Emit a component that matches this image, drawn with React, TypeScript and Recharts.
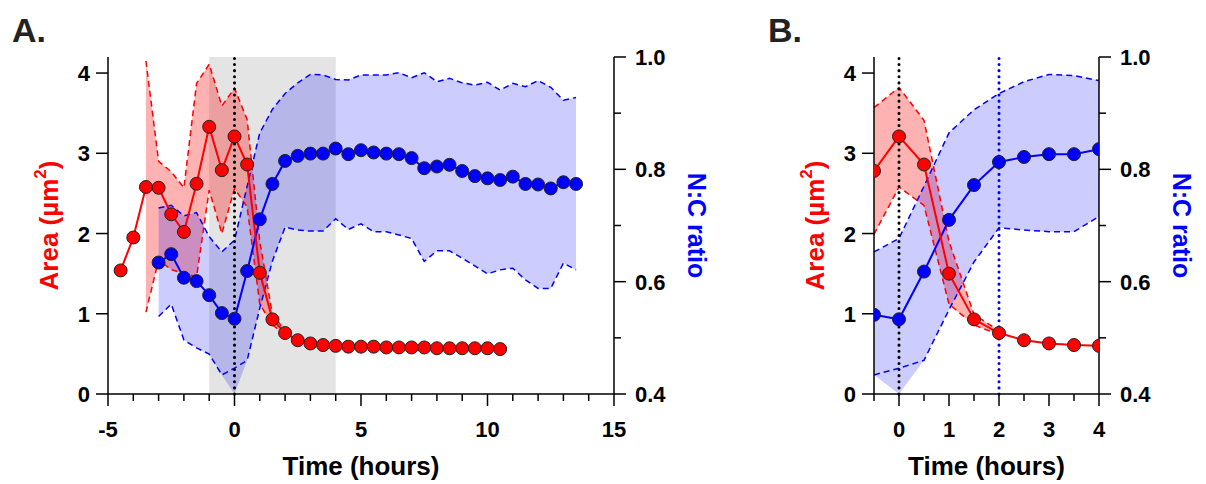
import React from 'react';
import { ComposedChart, Line, Area, XAxis, YAxis, ReferenceArea, ReferenceLine } from 'recharts';

const RED = '#ff0000';
const BLUE = '#0000ff';
const FONT = 'Arial, "Liberation Sans", Helvetica, sans-serif';

// ---- panel A: whole time course ----
const A_AREA_TIME = [-4.5, -4, -3.5, -3, -2.5, -2, -1.5, -1, -0.5, 0, 0.5, 1, 1.5, 2, 2.5, 3, 3.5, 4, 4.5, 5, 5.5, 6, 6.5, 7, 7.5, 8, 8.5, 9, 9.5, 10, 10.5];
const A_AREA = [1.54, 1.95, 2.58, 2.57, 2.24, 2.02, 2.62, 3.33, 2.79, 3.21, 2.86, 1.51, 0.93, 0.76, 0.67, 0.63, 0.61, 0.6, 0.59, 0.59, 0.59, 0.58, 0.58, 0.58, 0.58, 0.57, 0.57, 0.57, 0.57, 0.57, 0.56];
const A_AREA_SD_TIME = [-3.5, -3, -2.5, -2, -1.5, -1, -0.5, 0, 0.5, 1, 1.5, 2];
const A_AREA_HI = [4.15, 2.9, 2.77, 2.57, 3.87, 4.11, 3.59, 3.81, 3.42, 1.9, 0.99, 0.79];
const A_AREA_LO = [1.02, 1.67, 1.55, 1.5, 1.46, 2.54, 2.0, 2.56, 2.33, 1.12, 0.86, 0.74];

const A_NC_TIME = [-3, -2.5, -2, -1.5, -1, -0.5, 0, 0.5, 1, 1.5, 2, 2.5, 3, 3.5, 4, 4.5, 5, 5.5, 6, 6.5, 7, 7.5, 8, 8.5, 9, 9.5, 10, 10.5, 11, 11.5, 12, 12.5, 13, 13.5];
const A_NC = [0.634, 0.649, 0.607, 0.601, 0.576, 0.544, 0.534, 0.619, 0.711, 0.774, 0.815, 0.824, 0.828, 0.828, 0.837, 0.827, 0.834, 0.83, 0.828, 0.827, 0.82, 0.802, 0.805, 0.808, 0.797, 0.788, 0.784, 0.781, 0.787, 0.774, 0.773, 0.766, 0.777, 0.774];
const A_NC_HI = [0.731, 0.736, 0.717, 0.723, 0.68, 0.653, 0.674, 0.77, 0.865, 0.907, 0.935, 0.954, 0.969, 0.968, 0.96, 0.959, 0.968, 0.968, 0.968, 0.972, 0.963, 0.972, 0.956, 0.962, 0.954, 0.95, 0.955, 0.941, 0.953, 0.947, 0.958, 0.946, 0.923, 0.928];
const A_NC_LO = [0.538, 0.56, 0.496, 0.482, 0.471, 0.434, 0.446, 0.46, 0.553, 0.637, 0.697, 0.692, 0.69, 0.69, 0.712, 0.693, 0.703, 0.689, 0.689, 0.683, 0.677, 0.636, 0.655, 0.655, 0.642, 0.628, 0.614, 0.621, 0.624, 0.603, 0.588, 0.588, 0.633, 0.621];
// shaded band floor (drops to the axis at t = 0)
const A_NC_FILL_LO = [0.538, 0.56, 0.496, 0.482, 0.471, 0.434, 0.4, 0.46, 0.553, 0.637, 0.697, 0.692, 0.69, 0.69, 0.712, 0.693, 0.703, 0.689, 0.689, 0.683, 0.677, 0.636, 0.655, 0.655, 0.642, 0.628, 0.614, 0.621, 0.624, 0.603, 0.588, 0.588, 0.633, 0.621];

const A_X_TICKS = [-5, -4, -3, -2, -1, 0, 1, 2, 3, 4, 5, 6, 7, 8, 9, 10, 11, 12, 13, 14, 15];
const A_X_LABELS = [-5, 0, 5, 10, 15];
const A_SHADE = [-1, 4];

// ---- panel B: zoom on -0.5 .. 4 h ----
const B_TIME = [-0.5, 0, 0.5, 1, 1.5, 2, 2.5, 3, 3.5, 4];
const B_AREA = [2.78, 3.21, 2.86, 1.5, 0.93, 0.76, 0.67, 0.63, 0.61, 0.6];
const B_AREA_SD_TIME = [-0.5, 0, 0.5, 1, 1.5, 2];
const B_AREA_HI = [3.57, 3.82, 3.41, 1.9, 0.99, 0.79];
const B_AREA_LO = [1.99, 2.58, 2.35, 1.12, 0.86, 0.74];
const B_NC = [0.541, 0.533, 0.618, 0.71, 0.772, 0.813, 0.822, 0.827, 0.827, 0.836];
const B_NC_HI = [0.653, 0.677, 0.77, 0.865, 0.906, 0.935, 0.956, 0.969, 0.967, 0.958];
const B_NC_LO = [0.434, 0.446, 0.46, 0.55, 0.635, 0.696, 0.692, 0.689, 0.689, 0.716];
const B_NC_FILL_LO = [0.434, 0.4, 0.46, 0.55, 0.635, 0.696, 0.692, 0.689, 0.689, 0.716];

const B_X_TICKS = [-0.5, 0, 0.5, 1, 1.5, 2, 2.5, 3, 3.5, 4];
const B_X_LABELS = [0, 1, 2, 3, 4];

const AREA_TICKS = [0, 1, 2, 3, 4];
const NC_TICKS = [0.4, 0.5, 0.6, 0.7, 0.8, 0.9, 1.0];
const NC_LABELS = [0.4, 0.6, 0.8, 1.0];

type Col = [string, number[], (number | null)[]];

// merge every series into one table keyed by time
const buildRows = (cols: Col[]) => {
  const times = Array.from(new Set(cols.flatMap((c) => c[1]))).sort((a, b) => a - b);
  return times.map((t) => {
    const row: Record<string, number | null> = { t };
    cols.forEach(([key, ts, vs]) => {
      const i = ts.indexOf(t);
      row[key] = i < 0 ? null : vs[i];
    });
    return row;
  });
};

const rowsA = buildRows([
  ['area', A_AREA_TIME, A_AREA],
  ['areaHi', A_AREA_SD_TIME, A_AREA_HI],
  ['areaLo', A_AREA_SD_TIME, A_AREA_LO],
  ['nc', A_NC_TIME, A_NC],
  ['ncHi', A_NC_TIME, A_NC_HI],
  ['ncLo', A_NC_TIME, A_NC_LO],
  ['ncFillLo', A_NC_TIME, A_NC_FILL_LO],
]);

const rowsB = buildRows([
  ['area', B_TIME, B_AREA],
  ['areaHi', B_AREA_SD_TIME, B_AREA_HI],
  ['areaLo', B_AREA_SD_TIME, B_AREA_LO],
  ['nc', B_TIME, B_NC],
  ['ncHi', B_TIME, B_NC_HI],
  ['ncLo', B_TIME, B_NC_LO],
  ['ncFillLo', B_TIME, B_NC_FILL_LO],
]);

const txt = { fontFamily: FONT, fontWeight: 700, fill: '#000' } as const;

const makeXTick = (labeled: number[]) => (props: any) => {
  const { x, y, payload } = props;
  const major = labeled.includes(payload.value);
  return (
    <g>
      <line x1={x} x2={x} y1={y} y2={y + (major ? 12 : 7)} stroke="#000" strokeWidth={1.5} />
      {major && (
        <text x={x} y={y + 43} textAnchor="middle" fontSize={22} {...txt}>
          {payload.value}
        </text>
      )}
    </g>
  );
};

const AreaTick = (props: any) => {
  const { x, y, payload } = props;
  return (
    <g>
      <line x1={x - 12} x2={x} y1={y} y2={y} stroke="#000" strokeWidth={1.5} />
      <text x={x - 18} y={y + 8} textAnchor="end" fontSize={22} {...txt}>
        {payload.value}
      </text>
    </g>
  );
};

const NcTick = (props: any) => {
  const { x, y, payload } = props;
  const major = NC_LABELS.some((v) => Math.abs(v - payload.value) < 1e-6);
  return (
    <g>
      <line x1={x} x2={x + (major ? 12 : 7)} y1={y} y2={y} stroke="#000" strokeWidth={1.5} />
      {major && (
        <text x={x + 21} y={y + 8} textAnchor="start" fontSize={22} {...txt}>
          {payload.value.toFixed(1)}
        </text>
      )}
    </g>
  );
};

const areaTitle = (props: any) => {
  const { x, y, height } = props.viewBox;
  const cx = x - 19;
  const cy = y + height / 2;
  return (
    <text x={cx} y={cy} transform={`rotate(-90, ${cx}, ${cy})`} textAnchor="middle" dominantBaseline="central" fontSize={26} fontFamily={FONT} fontWeight={700} fill={RED}>
      Area (µm<tspan dy={-9} fontSize={17}>2</tspan><tspan dy={9}>)</tspan>
    </text>
  );
};

const ncTitle = (props: any) => {
  const { x, y, height } = props.viewBox;
  const cx = x + 83;
  const cy = y + height / 2;
  return (
    <text x={cx} y={cy} transform={`rotate(90, ${cx}, ${cy})`} textAnchor="middle" dominantBaseline="central" fontSize={25} fontFamily={FONT} fontWeight={700} fill={BLUE}>
      N:C ratio
    </text>
  );
};

const timeTitle = (props: any) => {
  const { x, y, width } = props.viewBox;
  return (
    <text x={x + width / 2} y={y + 81} textAnchor="middle" fontSize={26} {...txt}>
      Time (hours)
    </text>
  );
};

const dotStyle = (fill: string) => ({ r: 6.5, fill, stroke: '#222', strokeWidth: 1 });

interface PanelProps {
  rows: Record<string, number | null>[];
  width: number;
  margin: { top: number; right: number; bottom: number; left: number };
  xDomain: [number, number];
  xTicks: number[];
  xLabels: number[];
  shade?: number[];
  blueLineAt?: number;
}

const Panel: React.FC<PanelProps> = ({ rows, width, margin, xDomain, xTicks, xLabels, shade, blueLineAt }) => (
  <ComposedChart width={width} height={484} data={rows} margin={margin}>
    <XAxis
      dataKey="t"
      type="number"
      domain={xDomain}
      ticks={xTicks}
      interval={0}
      allowDataOverflow
      height={60}
      tickSize={0}
      tickMargin={0}
      tickLine={false}
      tick={makeXTick(xLabels)}
      axisLine={{ stroke: '#000', strokeWidth: 1.5 }}
      label={{ content: timeTitle }}
    />
    <YAxis
      yAxisId="L"
      domain={[0, 4.2]}
      ticks={AREA_TICKS}
      interval={0}
      allowDataOverflow
      width={40}
      tickSize={0}
      tickMargin={0}
      tickLine={false}
      tick={AreaTick}
      axisLine={{ stroke: '#000', strokeWidth: 1.5 }}
      label={{ content: areaTitle }}
    />
    <YAxis
      yAxisId="R"
      orientation="right"
      domain={[0.4, 1.0]}
      ticks={NC_TICKS}
      interval={0}
      allowDataOverflow
      width={40}
      tickSize={0}
      tickMargin={0}
      tickLine={false}
      tick={NcTick}
      axisLine={{ stroke: '#000', strokeWidth: 1.5 }}
      label={{ content: ncTitle }}
    />
    {shade && (
      <ReferenceArea yAxisId="L" x1={shade[0]} x2={shade[1]} y1={0} y2={4.2} fill="#e4e4e4" fillOpacity={1} stroke="none" />
    )}

    <Area yAxisId="L" dataKey={(d: any) => (d.areaHi == null ? null : [d.areaLo, d.areaHi])} stroke="none" fill={RED} fillOpacity={0.3} isAnimationActive={false} activeDot={false} />
    <Area yAxisId="R" dataKey={(d: any) => (d.ncHi == null ? null : [d.ncFillLo, d.ncHi])} stroke="none" fill={BLUE} fillOpacity={0.2} isAnimationActive={false} activeDot={false} />

    <Line yAxisId="L" dataKey="areaHi" stroke={RED} strokeWidth={1.5} strokeDasharray="6 4" dot={false} activeDot={false} isAnimationActive={false} />
    <Line yAxisId="L" dataKey="areaLo" stroke={RED} strokeWidth={1.5} strokeDasharray="6 4" dot={false} activeDot={false} isAnimationActive={false} />
    <Line yAxisId="R" dataKey="ncHi" stroke={BLUE} strokeWidth={1.5} strokeDasharray="6 4" dot={false} activeDot={false} isAnimationActive={false} />
    <Line yAxisId="R" dataKey="ncLo" stroke={BLUE} strokeWidth={1.5} strokeDasharray="6 4" dot={false} activeDot={false} isAnimationActive={false} />

    <ReferenceLine yAxisId="L" x={0} stroke="#000" strokeWidth={3} strokeDasharray="0.1 6" strokeLinecap="round" />
    {blueLineAt != null && (
      <ReferenceLine yAxisId="L" x={blueLineAt} stroke={BLUE} strokeWidth={3} strokeDasharray="0.1 6" strokeLinecap="round" />
    )}

    <Line yAxisId="R" dataKey="nc" stroke={BLUE} strokeWidth={2} dot={dotStyle(BLUE)} activeDot={false} isAnimationActive={false} />
    <Line yAxisId="L" dataKey="area" stroke={RED} strokeWidth={2} dot={dotStyle(RED)} activeDot={false} isAnimationActive={false} />
  </ComposedChart>
);

const panelLetter = (left: number): React.CSSProperties => ({
  position: 'absolute',
  left,
  top: 13,
  fontFamily: FONT,
  fontWeight: 700,
  fontSize: 34,
  lineHeight: 1,
  color: '#222',
});

export default function App() {
  return (
    <div style={{ position: 'relative', width: 1206, height: 484, background: '#fff', overflow: 'hidden' }}>
      <style>{'body { margin: 0; }'}</style>
      <div style={{ position: 'absolute', left: 0, top: 0 }}>
        <Panel
          rows={rowsA}
          width={730}
          margin={{ top: 57, right: 76, bottom: 30, left: 68 }}
          xDomain={[-5, 15]}
          xTicks={A_X_TICKS}
          xLabels={A_X_LABELS}
          shade={A_SHADE}
        />
      </div>
      <div style={{ position: 'absolute', left: 760, top: 0 }}>
        <Panel
          rows={rowsB}
          width={446}
          margin={{ top: 57, right: 67, bottom: 30, left: 74 }}
          xDomain={[-0.5, 4]}
          xTicks={B_X_TICKS}
          xLabels={B_X_LABELS}
          blueLineAt={2}
        />
      </div>
      <div style={panelLetter(12)}>A.</div>
      <div style={panelLetter(768)}>B.</div>
    </div>
  );
}
